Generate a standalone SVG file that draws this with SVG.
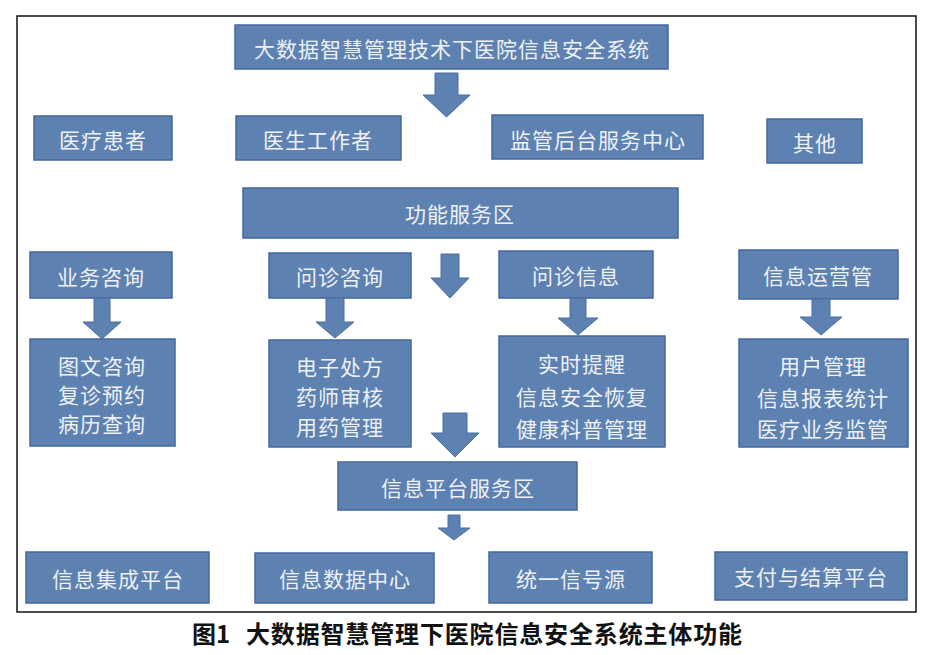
<svg xmlns="http://www.w3.org/2000/svg" width="930" height="655" viewBox="0 0 930 655">
<style>
.b{fill:#5d81b1;stroke:#44689a;stroke-width:1.5}
.t{font-family:"Noto Sans CJK SC","Noto Sans CJK JP",sans-serif;font-size:21px;fill:#eef1f6;text-anchor:middle;dominant-baseline:central;letter-spacing:1px}
.a{fill:#5d81b1;stroke:#4b6f9f;stroke-width:1}
.cap{font-family:"Noto Sans CJK SC","Noto Sans CJK JP",sans-serif;font-size:24px;font-weight:bold;fill:#111}
</style>
<rect x="0" y="0" width="930" height="655" fill="#ffffff"/>
<rect x="17" y="16" width="899" height="596" fill="none" stroke="#111" stroke-width="1.5"/>

<g id="title"><rect class="b" x="235" y="25" width="433" height="44"/><text class="t" x="452" y="48">大数据智慧管理技术下医院信息安全系统</text></g>

<g id="patient"><rect class="b" x="34" y="116" width="138" height="44"/><text class="t" x="103" y="139">医疗患者</text></g>
<g id="doctor"><rect class="b" x="236" y="116" width="165" height="44"/><text class="t" x="318" y="139">医生工作者</text></g>
<g id="supervision"><rect class="b" x="492" y="115" width="211" height="44"/><text class="t" x="598" y="139">监管后台服务中心</text></g>
<g id="other"><rect class="b" x="767" y="119" width="95" height="44"/><text class="t" x="815" y="142">其他</text></g>

<g id="function-zone"><rect class="b" x="243" y="188" width="435" height="50"/><text class="t" x="460" y="213">功能服务区</text></g>

<g id="business-consult"><rect class="b" x="30" y="252" width="142" height="46"/><text class="t" x="101" y="276">业务咨询</text></g>
<g id="business-items"><rect class="b" x="30" y="339" width="145" height="107"/><text class="t" x="102" y="365">图文咨询</text><text class="t" x="102" y="394">复诊预约</text><text class="t" x="102" y="423">病历查询</text></g>

<g id="inquiry-consult"><rect class="b" x="269" y="253" width="142" height="45"/><text class="t" x="340" y="276">问诊咨询</text></g>
<g id="inquiry-items"><rect class="b" x="269" y="340" width="142" height="107"/><text class="t" x="340" y="366">电子处方</text><text class="t" x="340" y="396">药师审核</text><text class="t" x="340" y="426">用药管理</text></g>

<g id="inquiry-info"><rect class="b" x="499" y="251" width="154" height="47"/><text class="t" x="576" y="275">问诊信息</text></g>
<g id="info-items"><rect class="b" x="499" y="336" width="166" height="111"/><text class="t" x="582" y="363">实时提醒</text><text class="t" x="582" y="396">信息安全恢复</text><text class="t" x="582" y="428">健康科普管理</text></g>

<g id="ops"><rect class="b" x="739" y="250" width="159" height="49"/><text class="t" x="818" y="275">信息运营管</text></g>
<g id="ops-items"><rect class="b" x="739" y="339" width="169" height="108"/><text class="t" x="823" y="365">用户管理</text><text class="t" x="823" y="397">信息报表统计</text><text class="t" x="823" y="428">医疗业务监管</text></g>

<g id="platform-zone"><rect class="b" x="338" y="462" width="239" height="48"/><text class="t" x="458" y="487">信息平台服务区</text></g>

<g id="integration"><rect class="b" x="26" y="552" width="183" height="51"/><text class="t" x="118" y="578">信息集成平台</text></g>
<g id="datacenter"><rect class="b" x="255" y="553" width="179" height="50"/><text class="t" x="345" y="578">信息数据中心</text></g>
<g id="signal"><rect class="b" x="489" y="552" width="163" height="51"/><text class="t" x="571" y="578">统一信号源</text></g>
<g id="payment"><rect class="b" x="715" y="552" width="192" height="48"/><text class="t" x="811" y="576">支付与结算平台</text></g>

<g id="connectors">
<polygon class="a" points="435,73 458,73 458,95 470,95 446.5,117 423,95 435,95"/>
<polygon class="a" points="441,254 459,254 459,278 469,278 450,298 431,278 441,278"/>
<polygon class="a" points="443,413 467,413 467,433 479,433 455,457 431,433 443,433"/>
<polygon class="a" points="448,515 460,515 460,528 470,528 454,540 438,528 448,528"/>
<polygon class="a" points="94,298 110,298 110,322 121,322 102,339 83,322 94,322"/>
<polygon class="a" points="326,298 344,298 344,322 354,322 335,338 316,322 326,322"/>
<polygon class="a" points="570,298 586,298 586,318 598,318 578,335 558,318 570,318"/>
<polygon class="a" points="812,299 830,299 830,317 842,317 821,335 800,317 812,317"/>
</g>

<g id="caption">
<text class="cap" x="192" y="643">图1</text>
<text class="cap" x="246" y="643" textLength="496" lengthAdjust="spacing">大数据智慧管理下医院信息安全系统主体功能</text>
</g>
</svg>
